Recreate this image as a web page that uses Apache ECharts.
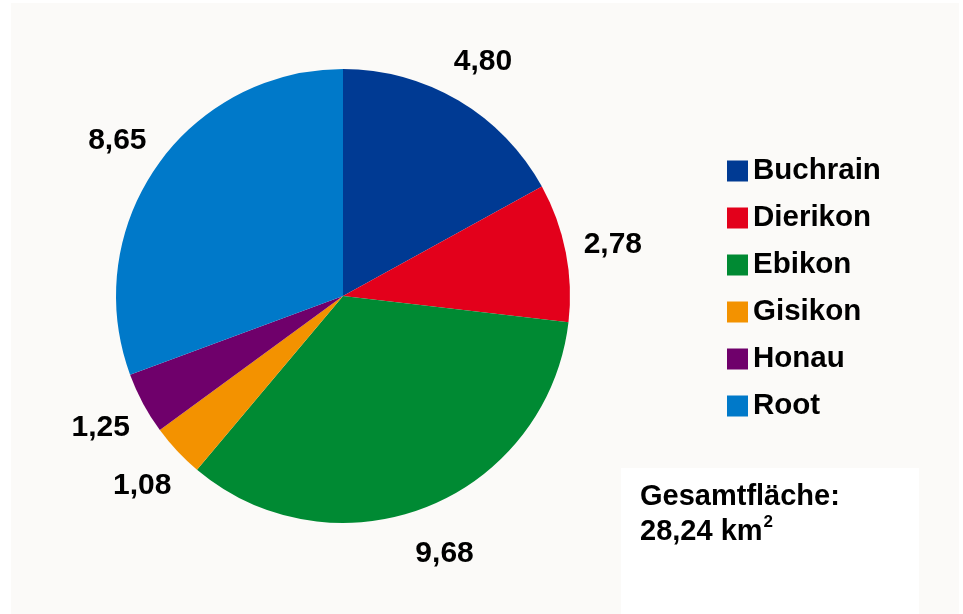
<!DOCTYPE html>
<html>
<head>
<meta charset="utf-8">
<script src="https://cdn.jsdelivr.net/npm/echarts@6/dist/echarts.min.js"></script>
<style>html,body{margin:0;padding:0;background:#fff}#c{width:963px;height:614px}</style>
</head>
<body>
<div id="c"></div>
<script>
const categories = ['Buchrain', 'Dierikon', 'Ebikon', 'Gisikon', 'Honau', 'Root'];
const areas = [4.80, 2.78, 9.68, 1.08, 1.25, 8.65];
const colors = ['#003a93', '#e3001b', '#008a33', '#f39200', '#6f006b', '#0079c9'];
const totalLabel = ['Gesamtfläche:', '28,24 km', '2'];

const FONT = '"Liberation Sans", Arial, sans-serif';
const fmt = v => v.toFixed(2).replace('.', ',');

const chart = echarts.init(document.getElementById('c'), null, { renderer: 'canvas' });
chart.setOption({
  backgroundColor: '#ffffff',
  animation: false,
  graphic: [
    { type: 'rect', z: -10, shape: { x: 11, y: 3, width: 948, height: 611 }, style: { fill: '#fbfaf8' } },
    { type: 'rect', z: -9, shape: { x: 621, y: 468, width: 298, height: 146 }, style: { fill: '#ffffff' } },
    {
      type: 'text', left: 640, top: 482, z: 10,
      style: {
        text: '{a|' + totalLabel[0] + '}\n{a|' + totalLabel[1] + '}{sup|' + totalLabel[2] + '}',
        rich: {
          a: { fontFamily: FONT, fontSize: 29, fontWeight: 'bold', lineHeight: 35, fill: '#000' },
          sup: { fontFamily: FONT, fontSize: 17, fontWeight: 'bold', lineHeight: 35, verticalAlign: 'top', fill: '#000', padding: [0, 0, 0, 1] }
        }
      }
    }
  ],
  legend: {
    orient: 'vertical',
    left: 722,
    top: 151,
    icon: 'rect',
    itemWidth: 21,
    itemHeight: 21,
    itemGap: 17,
    data: categories,
    textStyle: { fontFamily: FONT, fontSize: 29.5, fontWeight: 'bold', color: '#000', lineHeight: 30, padding: [0, 0, 0, 0] }
  },
  series: [
    {
      type: 'pie',
      name: 'main',
      center: [343, 296],
      radius: [0, 227],
      startAngle: 90,
      clockwise: true,
      label: { show: false },
      labelLine: { show: false },
      itemStyle: { borderWidth: 0 },
      data: categories.map((c, i) => ({ name: c, value: areas[i], itemStyle: { color: colors[i] } }))
    },
    {
      type: 'pie',
      name: 'labels',
      center: [343, 298],
      radius: [250, 294],
      startAngle: 90,
      clockwise: true,
      silent: true,
      legendHoverLink: false,
      itemStyle: { color: 'rgba(0,0,0,0)' },
      label: {
        show: true,
        position: 'inside',
        formatter: p => fmt(p.value),
        fontFamily: FONT,
        fontSize: 30,
        fontWeight: 'bold',
        color: '#000'
      },
      labelLine: { show: false },
      data: categories.map((c, i) => ({ name: c, value: areas[i] }))
    }
  ]
});
</script>
</body>
</html>
